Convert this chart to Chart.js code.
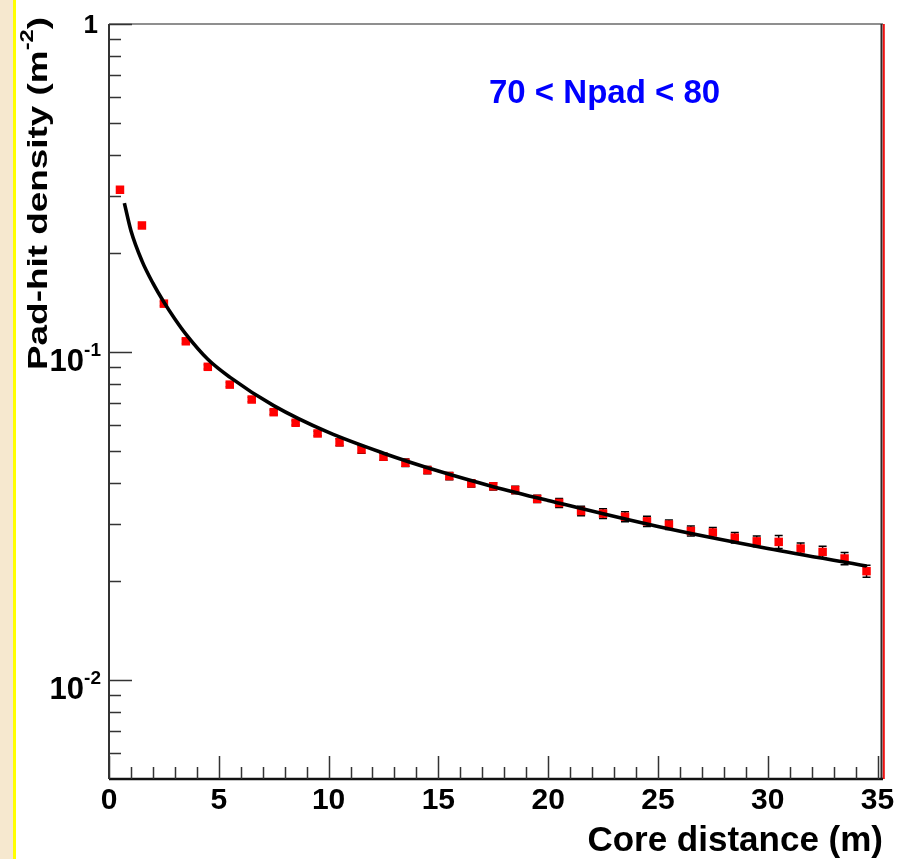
<!DOCTYPE html>
<html><head><meta charset="utf-8">
<script src="https://cdn.jsdelivr.net/npm/chart.js@4.4.1/dist/chart.umd.min.js"></script>
<style>
html,body{margin:0;padding:0;background:#fff;width:908px;height:859px;overflow:hidden}
#strip{position:absolute;left:0;top:0;width:13px;height:859px;background:#f6e8cf;border-right:3px solid #ffff00}
#c{position:absolute;left:0;top:0}
</style></head><body>
<div id="strip"></div>
<canvas id="c" width="908" height="859"></canvas>
<script>
// ---- data ----
const distances = [0.5,1.5,2.5,3.5,4.5,5.5,6.5,7.5,8.5,9.5,10.5,11.5,12.5,13.5,14.5,15.5,16.5,17.5,18.5,19.5,20.5,21.5,22.5,23.5,24.5,25.5,26.5,27.5,28.5,29.5,30.5,31.5,32.5,33.5,34.5];
const density = [0.3125,0.2432,0.1405,0.1079,0.0902,0.0796,0.0717,0.0656,0.0609,0.0565,0.0531,0.0505,0.0480,0.0460,0.0437,0.0419,0.0398,0.0390,0.0380,0.0357,0.0347,0.0328,0.0322,0.0315,0.0305,0.0298,0.0285,0.0282,0.0272,0.0265,0.0264,0.0252,0.0246,0.0235,0.0215];
const densityErr = [0.0047,0.0036,0.0021,0.0016,0.0013,0.0012,0.0011,0.0010,0.0009,0.0009,0.0013,0.0013,0.0012,0.0012,0.0011,0.0011,0.0010,0.0010,0.0010,0.0009,0.0011,0.0011,0.0011,0.0011,0.0011,0.0010,0.0010,0.0010,0.0010,0.0010,0.0012,0.0010,0.0010,0.0010,0.0009];
const fitDistance = [0.7,1.0,1.5,2.0,2.5,3.0,3.5,4.5,5.5,7.5,10,12.5,15,17.5,20,25,30,34.5];
const fitDensity = [0.2844,0.2344,0.1897,0.1622,0.1420,0.1262,0.1135,0.0951,0.0839,0.0687,0.0569,0.0492,0.0434,0.0389,0.0353,0.0294,0.0252,0.0223];
const xTickLabels = [0,5,10,15,20,25,30,35];
const xMinorTicks = [1,2,3,4,6,7,8,9,11,12,13,14,16,17,18,19,21,22,23,24,26,27,28,29,31,32,33,34];
const yMajorTicks = [1,0.1,0.01];
const yTickBase = ["1","10","10"];
const yTickExp = ["","-1","-2"];
const yMinorTicks = [0.9,0.8,0.7,0.6,0.5,0.4,0.3,0.2,0.09,0.08,0.07,0.06,0.05,0.04,0.03,0.02,0.009,0.008,0.007,0.006];
const xTitle = "Core distance (m)";
const yTitle = "Pad-hit density (m";
const yTitleSup = "-2";
const noteText = "70 < Npad < 80";

const FONT = "'Liberation Sans', Arial, Helvetica, sans-serif";

const framePlugin = {
  id: 'rootFrame',
  beforeDatasetsDraw(chart) {
    const {ctx, scales:{x, y}} = chart;
    ctx.save();
    ctx.strokeStyle = '#000';
    ctx.lineWidth = 1.5;
    for (let i = 0; i < distances.length; i++) {
      const px = x.getPixelForValue(distances[i]);
      const y1 = y.getPixelForValue(density[i] + densityErr[i]);
      const y2 = y.getPixelForValue(density[i] - densityErr[i]);
      ctx.beginPath();
      ctx.moveTo(px, y1); ctx.lineTo(px, y2);
      ctx.moveTo(px - 4, y1); ctx.lineTo(px + 4, y1);
      ctx.moveTo(px - 4, y2); ctx.lineTo(px + 4, y2);
      ctx.stroke();
    }
    ctx.restore();
  },
  afterDraw(chart) {
    const {ctx, chartArea:a, scales:{x, y}} = chart;
    ctx.save();
    // top frame
    ctx.strokeStyle = '#6a6a6a'; ctx.lineWidth = 1.5;
    ctx.beginPath(); ctx.moveTo(a.left, a.top); ctx.lineTo(a.right, a.top); ctx.stroke();
    // right frame (dark + red)
    ctx.strokeStyle = '#2a2a2a'; ctx.lineWidth = 2;
    ctx.beginPath(); ctx.moveTo(a.right - 1.5, a.top); ctx.lineTo(a.right - 1.5, a.bottom); ctx.stroke();
    ctx.strokeStyle = '#ee1111'; ctx.lineWidth = 2;
    ctx.beginPath(); ctx.moveTo(a.right + 0.8, a.top); ctx.lineTo(a.right + 0.8, a.bottom); ctx.stroke();
    // left axis
    ctx.strokeStyle = '#333'; ctx.lineWidth = 2;
    ctx.beginPath(); ctx.moveTo(a.left, a.top); ctx.lineTo(a.left, a.bottom); ctx.stroke();
    // y ticks
    ctx.lineWidth = 1.5;
    ctx.beginPath();
    yMajorTicks.forEach(v => { const py = Math.round(y.getPixelForValue(v)) + 0.5; ctx.moveTo(a.left, py); ctx.lineTo(a.left + 23, py); });
    yMinorTicks.forEach(v => { const py = Math.round(y.getPixelForValue(v)) + 0.5; ctx.moveTo(a.left, py); ctx.lineTo(a.left + 12, py); });
    ctx.stroke();
    // bottom axis
    ctx.strokeStyle = '#111'; ctx.lineWidth = 2.5;
    ctx.beginPath(); ctx.moveTo(a.left, a.bottom); ctx.lineTo(a.right, a.bottom); ctx.stroke();
    // x ticks
    ctx.strokeStyle = '#333'; ctx.lineWidth = 1.5;
    ctx.beginPath();
    xTickLabels.forEach(v => { const px = Math.round(x.getPixelForValue(v)) + 0.5; ctx.moveTo(px, a.bottom); ctx.lineTo(px, a.bottom - 23); });
    xMinorTicks.forEach(v => { const px = Math.round(x.getPixelForValue(v)) + 0.5; ctx.moveTo(px, a.bottom); ctx.lineTo(px, a.bottom - 12); });
    ctx.stroke();

    // x tick labels
    ctx.fillStyle = '#000';
    ctx.font = 'bold 30px ' + FONT;
    ctx.textAlign = 'center'; ctx.textBaseline = 'alphabetic';
    xTickLabels.forEach(v => { ctx.fillText(String(v), x.getPixelForValue(v), a.bottom + 30); });

    // y tick labels
    yMajorTicks.forEach((v, i) => {
      const py = y.getPixelForValue(v);
      if (!yTickExp[i]) {
        ctx.font = 'bold 26px ' + FONT;
        ctx.textAlign = 'right';
        ctx.fillText(yTickBase[i], a.left - 11, py + 9);
      } else {
        ctx.font = 'bold 19px ' + FONT;
        const sw = ctx.measureText(yTickExp[i]).width;
        const xr = a.left - 8;
        ctx.textAlign = 'left';
        ctx.fillText(yTickExp[i], xr - sw, py + 4);
        ctx.font = 'bold 31px ' + FONT;
        ctx.textAlign = 'right';
        ctx.fillText(yTickBase[i], xr - sw, py + 19);
      }
    });

    // x title
    ctx.font = 'bold 35px ' + FONT;
    ctx.textAlign = 'right';
    ctx.fillText(xTitle, a.right, 851);

    // y title (rotated, stretched along its length)
    ctx.save();
    ctx.translate(47, 370);
    ctx.rotate(-Math.PI / 2);
    ctx.font = 'bold 28px ' + FONT;
    const w1 = ctx.measureText(yTitle).width;
    const w3 = ctx.measureText(')').width;
    ctx.font = 'bold 18px ' + FONT;
    const w2 = ctx.measureText(yTitleSup).width;
    const s = 353 / (w1 + w2 + w3);
    ctx.scale(s, 1);
    ctx.textAlign = 'left';
    ctx.font = 'bold 28px ' + FONT;
    ctx.fillText(yTitle, 0, 0);
    ctx.font = 'bold 18px ' + FONT;
    ctx.fillText(yTitleSup, w1, -14);
    ctx.font = 'bold 28px ' + FONT;
    ctx.fillText(')', w1 + w2, 0);
    ctx.restore();

    // annotation
    ctx.fillStyle = '#0000ff';
    ctx.font = 'bold 33px ' + FONT;
    ctx.textAlign = 'left';
    ctx.fillText(noteText, 489, 103);
    ctx.restore();
  }
};

new Chart(document.getElementById('c').getContext('2d'), {
  type: 'scatter',
  data: {
    datasets: [
      {
        label: 'fit',
        data: fitDistance.map((d, i) => ({x: d, y: fitDensity[i]})),
        showLine: true,
        borderColor: '#000',
        borderWidth: 3.6,
        pointRadius: 0,
        cubicInterpolationMode: 'monotone',
        fill: false
      },
      {
        label: 'data',
        data: distances.map((d, i) => ({x: d, y: density[i]})),
        showLine: false,
        pointStyle: 'rect',
        pointRadius: 6,
        backgroundColor: '#ff0000',
        borderWidth: 0
      }
    ]
  },
  options: {
    responsive: false,
    animation: false,
    devicePixelRatio: 1,
    layout: {padding: {left: 109, right: 25, top: 24, bottom: 80}},
    plugins: {legend: {display: false}, tooltip: {enabled: false}},
    scales: {
      x: {type: 'linear', min: 0, max: 35.25, display: false},
      y: {type: 'logarithmic', min: 0.005, max: 1, display: false}
    }
  },
  plugins: [framePlugin]
});
</script>
</body></html>
